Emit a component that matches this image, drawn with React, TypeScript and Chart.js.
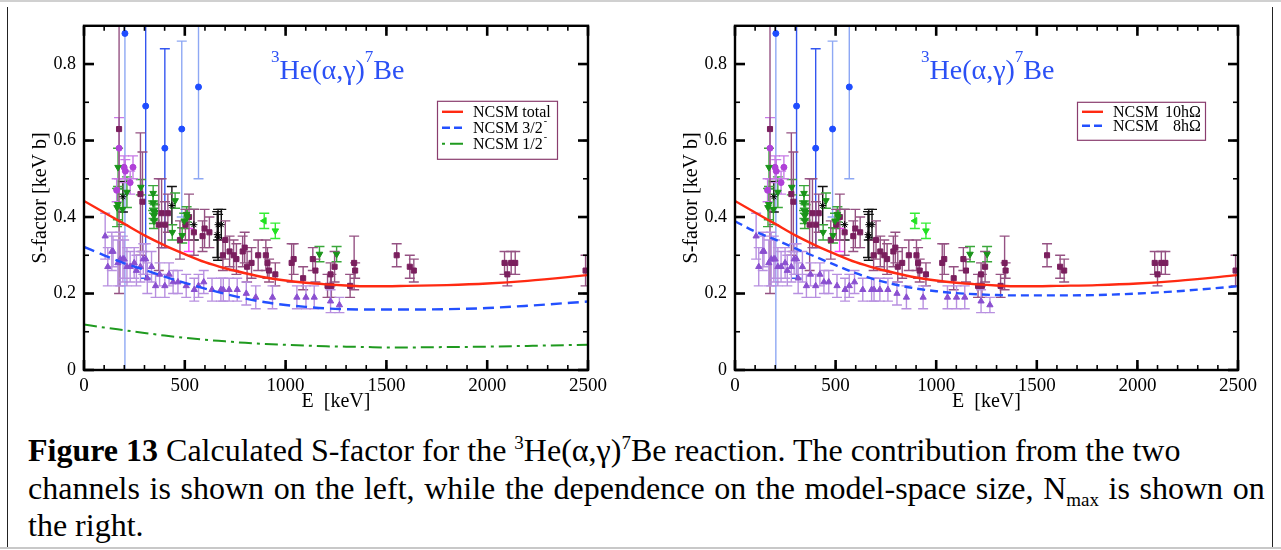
import React, { useEffect, useRef } from "react";
import { Chart, registerables } from "chart.js";

Chart.register(...registerables);

const FONT = '"Liberation Serif", "Times New Roman", Times, serif';

// ---------- axes ----------
const xTickValues = [0, 500, 1000, 1500, 2000, 2500];
const yTickValues = [0, 0.2, 0.4, 0.6, 0.8];
const xMin = 0;
const xMax = 2500;
const yMin = 0;
const yMax = 0.9;
const xMinorStep = 100;
const yMinorStep = 0.1;

// ---------- theory curves ----------
const curveE = [0, 100, 200, 300, 400, 500, 600, 700, 800, 900, 1000, 1100, 1200, 1300, 1400, 1500, 1600, 1800, 2000, 2200, 2500];
const sTotal = [0.442, 0.412, 0.382, 0.352, 0.326, 0.303, 0.282, 0.266, 0.253, 0.242, 0.234, 0.228, 0.224, 0.221, 0.219, 0.219, 0.22, 0.222, 0.226, 0.233, 0.248];
const s32 = [0.322, 0.3, 0.279, 0.262, 0.244, 0.228, 0.213, 0.199, 0.187, 0.177, 0.17, 0.165, 0.161, 0.159, 0.158, 0.158, 0.158, 0.159, 0.162, 0.168, 0.179];
const s12 = [0.119, 0.111, 0.104, 0.097, 0.09, 0.084, 0.079, 0.075, 0.071, 0.068, 0.066, 0.064, 0.062, 0.061, 0.06, 0.059, 0.059, 0.06, 0.061, 0.063, 0.066];
const s8 = [0.389, 0.362, 0.341, 0.318, 0.296, 0.274, 0.253, 0.236, 0.223, 0.213, 0.206, 0.201, 0.198, 0.196, 0.195, 0.195, 0.195, 0.196, 0.2, 0.206, 0.219];

// ---------- experimental data ----------
const maroonE = [174, 280, 290, 371, 385, 402, 416, 476, 503, 521, 545, 588, 598, 622, 689, 701, 722, 742, 756, 787, 797, 809, 831, 864, 902, 910, 918, 949, 1030, 1040, 1087, 1135, 1148, 1208, 1223, 1227, 1243, 1320, 1340, 1345, 1551, 1616, 1636, 2086, 2100, 2119, 2139, 2488];
const maroonS = [0.63, 0.46, 0.44, 0.38, 0.41, 0.38, 0.41, 0.34, 0.38, 0.4, 0.36, 0.35, 0.37, 0.36, 0.3, 0.34, 0.31, 0.3, 0.29, 0.31, 0.32, 0.27, 0.28, 0.3, 0.3, 0.28, 0.26, 0.25, 0.28, 0.29, 0.24, 0.29, 0.26, 0.22, 0.25, 0.22, 0.27, 0.22, 0.28, 0.26, 0.3, 0.27, 0.26, 0.28, 0.25, 0.28, 0.28, 0.26];
const maroonErr = [0.43, 0.16, 0.13, 0.12, 0.09, 0.06, 0.05, 0.05, 0.04, 0.06, 0.06, 0.04, 0.05, 0.04, 0.04, 0.05, 0.04, 0.04, 0.04, 0.04, 0.04, 0.04, 0.04, 0.04, 0.04, 0.04, 0.03, 0.03, 0.05, 0.04, 0.03, 0.03, 0.03, 0.03, 0.03, 0.03, 0.04, 0.03, 0.07, 0.02, 0.03, 0.03, 0.03, 0.03, 0.03, 0.03, 0.03, 0.04];

const purpleE = [105, 118, 138, 144, 168, 180, 193, 199, 213, 229, 249, 260, 280, 294, 306, 314, 335, 355, 375, 401, 422, 442, 466, 507, 547, 568, 594, 635, 679, 691, 720, 760, 805, 852, 935, 1056, 1101, 1142, 1223, 1267];
const purpleS = [0.35, 0.27, 0.31, 0.31, 0.28, 0.29, 0.29, 0.29, 0.27, 0.27, 0.28, 0.26, 0.27, 0.29, 0.29, 0.24, 0.27, 0.22, 0.25, 0.22, 0.25, 0.23, 0.23, 0.22, 0.21, 0.22, 0.23, 0.21, 0.21, 0.21, 0.21, 0.21, 0.2, 0.19, 0.19, 0.19, 0.19, 0.19, 0.18, 0.17];
const purpleErr = [0.06, 0.05, 0.05, 0.04, 0.06, 0.07, 0.06, 0.05, 0.05, 0.04, 0.04, 0.04, 0.04, 0.04, 0.04, 0.04, 0.04, 0.03, 0.03, 0.03, 0.03, 0.03, 0.03, 0.03, 0.03, 0.03, 0.03, 0.03, 0.03, 0.03, 0.03, 0.03, 0.03, 0.03, 0.03, 0.03, 0.03, 0.03, 0.03, 0.02];

const greenE = [164, 168, 169, 191, 213, 282, 343, 343, 345, 347, 347, 351, 438, 452, 487, 497, 509, 513, 1168, 1253];
const greenS = [0.425, 0.433, 0.53, 0.42, 0.465, 0.478, 0.462, 0.437, 0.416, 0.403, 0.39, 0.412, 0.36, 0.443, 0.352, 0.39, 0.407, 0.4, 0.303, 0.303];
const greenErr = [0.05, 0.04, 0.05, 0.04, 0.04, 0.02, 0.02, 0.02, 0.02, 0.02, 0.02, 0.02, 0.02, 0.02, 0.02, 0.02, 0.02, 0.02, 0.02, 0.02];

const limeE = [894, 949];
const limeS = [0.39, 0.364];
const limeErr = [0.02, 0.02];
const limeRot = [-90, 180];

const blackE = [193, 436, 545, 661, 665, 665, 681];
const blackS = [0.453, 0.43, 0.38, 0.354, 0.347, 0.38, 0.38];
const blackErr = [0.04, 0.05, 0.04, 0.06, 0.06, 0.04, 0.04];

const violetE = [162, 174, 199, 205, 229, 243];
const violetS = [0.47, 0.58, 0.53, 0.52, 0.49, 0.53];
const violetErr = [0.03, 0.08, 0.03, 0.03, 0.03, 0.03];

const magentaE = [520];
const magentaS = [0.34];
const magentaErr = [0.03];

const blueDarkE = [306, 401];
const blueDarkS = [0.69, 0.58];
const blueDarkErr = [0.45, 0.26];

const blueLightE = [203, 485, 568];
const blueLightS = [0.88, 0.63, 0.74];
const blueLightErr = [0.88, 0.23, 0.24];

// ---------- helpers ----------
const pts = (E: number[], S: number[]) => E.map((e, i) => ({ x: e, y: S[i] }));

function scatter(E: number[], S: number[], err: number[], color: string, errColor: string, style: string, radius: number, rotation: any = 0) {
  return {
    type: "scatter",
    data: pts(E, S),
    errors: err,
    errColor,
    pointStyle: style,
    pointRadius: radius,
    pointRotation: rotation,
    backgroundColor: color,
    borderColor: color,
    borderWidth: 1,
  };
}

function experimentalDatasets() {
  return [
    scatter(magentaE, magentaS, magentaErr, "#ff30ff", "#ff40ff", "circle", 0),
    scatter(blueDarkE, blueDarkS, blueDarkErr, "#1f4dff", "#3456f0", "circle", 3),
    scatter(blueLightE, blueLightS, blueLightErr, "#1f4dff", "#8ea8f4", "circle", 3),
    scatter(blackE, blackS, blackErr, "#000000", "#111111", "star", 3.5),
    scatter(limeE, limeS, limeErr, "#22e022", "#33ee33", "triangle", 3.8, limeRot),
    scatter(greenE, greenS, greenErr, "#1a941a", "#3aa83a", "triangle", 3.8, 180),
    scatter(violetE, violetS, violetErr, "#b040d8", "#c77ae6", "circle", 3),
    scatter(maroonE, maroonS, maroonErr, "#7a1f5e", "#955283", "rect", 3.6),
    scatter(purpleE, purpleS, purpleErr, "#8a4fd0", "#b890e0", "triangle", 3.6),
  ];
}

function curve(S: number[], color: string, width: number, dash: number[]) {
  return {
    type: "line",
    data: pts(curveE, S),
    borderColor: color,
    borderWidth: width,
    borderDash: dash,
    pointRadius: 0,
    fill: false,
    cubicInterpolationMode: "monotone",
  };
}

// ---------- plugins ----------
const errorBarPlugin = {
  id: "errorBars",
  beforeDatasetsDraw(chart: any) {
    const { ctx, chartArea: a, scales } = chart;
    const x = scales.x;
    const y = scales.y;
    ctx.save();
    ctx.beginPath();
    ctx.rect(a.left, a.top, a.right - a.left, a.bottom - a.top);
    ctx.clip();
    const cap = 5;
    chart.data.datasets.forEach((ds: any) => {
      if (!ds.errors) return;
      ctx.strokeStyle = ds.errColor;
      ctx.lineWidth = 1.4;
      ds.data.forEach((p: any, i: number) => {
        const e = ds.errors[i];
        const px = x.getPixelForValue(p.x);
        const y1 = y.getPixelForValue(p.y - e);
        const y2 = y.getPixelForValue(p.y + e);
        ctx.beginPath();
        ctx.moveTo(px, y1);
        ctx.lineTo(px, y2);
        ctx.moveTo(px - cap, y1);
        ctx.lineTo(px + cap, y1);
        ctx.moveTo(px - cap, y2);
        ctx.lineTo(px + cap, y2);
        ctx.stroke();
      });
    });
    ctx.restore();
  },
};

const framePlugin = {
  id: "frameTicks",
  afterDatasetsDraw(chart: any) {
    const { ctx, chartArea: a, scales } = chart;
    const x = scales.x;
    const y = scales.y;
    ctx.save();
    ctx.strokeStyle = "#000";
    ctx.lineCap = "butt";
    const seg = (x1: number, y1: number, x2: number, y2: number) => {
      ctx.beginPath();
      ctx.moveTo(x1, y1);
      ctx.lineTo(x2, y2);
      ctx.stroke();
    };
    ctx.lineWidth = 1.6;
    for (let v = xMin; v <= xMax + 1e-9; v += xMinorStep) {
      const px = x.getPixelForValue(v);
      seg(px, a.bottom, px, a.bottom - 5);
      seg(px, a.top, px, a.top + 5);
    }
    for (let v = yMin; v <= yMax + 1e-9; v += yMinorStep) {
      const py = y.getPixelForValue(v);
      seg(a.left, py, a.left + 5, py);
      seg(a.right, py, a.right - 5, py);
    }
    ctx.lineWidth = 2.6;
    xTickValues.forEach((v) => {
      const px = x.getPixelForValue(v);
      seg(px, a.bottom, px, a.bottom - 10);
      seg(px, a.top, px, a.top + 10);
    });
    yTickValues.forEach((v) => {
      const py = y.getPixelForValue(v);
      seg(a.left, py, a.left + 10, py);
      seg(a.right, py, a.right - 10, py);
    });
    ctx.lineWidth = 2.4;
    ctx.strokeRect(a.left, a.top, a.right - a.left, a.bottom - a.top);
    ctx.restore();
  },
};

const boxLegendPlugin = {
  id: "boxLegend",
  afterDraw(chart: any, _args: any, opts: any) {
    if (!opts || !opts.entries) return;
    const { ctx, chartArea: a } = chart;
    const bx = a.left + opts.x;
    const by = a.top + opts.y;
    ctx.save();
    ctx.fillStyle = "#ffffff";
    ctx.fillRect(bx, by, opts.w, opts.h);
    ctx.strokeStyle = "#8a3d6e";
    ctx.lineWidth = 1.2;
    ctx.strokeRect(bx + 0.5, by + 0.5, opts.w, opts.h);
    opts.entries.forEach((en: any, i: number) => {
      const yy = by + opts.firstY + i * opts.rowH;
      const ds = chart.data.datasets[en.dataset];
      ctx.strokeStyle = ds.borderColor;
      ctx.lineWidth = ds.borderWidth;
      ctx.setLineDash(en.dash || []);
      ctx.beginPath();
      ctx.moveTo(bx + 5, yy);
      ctx.lineTo(bx + 26, yy);
      ctx.stroke();
      ctx.setLineDash([]);
      ctx.fillStyle = "#000";
      ctx.font = `16px ${FONT}`;
      ctx.textBaseline = "middle";
      ctx.textAlign = "left";
      ctx.fillText(en.text, bx + 36, yy + 1);
      if (en.sup) {
        const w = ctx.measureText(en.text).width;
        ctx.font = `10px ${FONT}`;
        ctx.fillText(en.sup, bx + 37 + w, yy - 6);
      }
      if (en.right) {
        ctx.font = `16px ${FONT}`;
        ctx.textAlign = "right";
        ctx.fillText(en.right, bx + opts.rightX, yy + 1);
      }
    });
    ctx.restore();
  },
};

// ---------- panel ----------
const CANVAS_TOP = 7;
const CANVAS_H = 413;
const Y_AXIS_W = 64;
const X_AXIS_H = 50;
const PAD_RIGHT = 32;

function Panel(props: { chartLeft: number; plotWidth: number; curves: any[]; legend: any }) {
  const ref = useRef<HTMLCanvasElement | null>(null);
  const width = Y_AXIS_W + props.plotWidth + PAD_RIGHT;
  useEffect(() => {
    const chart = new Chart(ref.current as HTMLCanvasElement, {
      type: "scatter",
      data: { datasets: [...props.curves, ...experimentalDatasets()] as any },
      options: {
        animation: false,
        responsive: false,
        maintainAspectRatio: false,
        events: [],
        layout: { padding: { top: 12, right: PAD_RIGHT, left: 0, bottom: 0 } },
        plugins: {
          legend: { display: false },
          tooltip: { enabled: false },
          boxLegend: props.legend,
        } as any,
        scales: {
          x: {
            type: "linear",
            min: xMin,
            max: xMax,
            grid: { display: false, drawTicks: false },
            border: { display: false },
            afterBuildTicks: (s: any) => {
              s.ticks = xTickValues.map((v) => ({ value: v }));
            },
            afterFit: (s: any) => {
              s.height = X_AXIS_H;
            },
            ticks: {
              color: "#000",
              font: { family: FONT, size: 19 },
              padding: 5,
              maxRotation: 0,
              autoSkip: false,
              callback: (v: any) => String(v),
            },
            title: {
              display: true,
              text: "E  [keV]",
              color: "#000",
              font: { family: FONT, size: 20 },
              padding: { top: 0, bottom: 6 },
            },
          },
          y: {
            type: "linear",
            min: yMin,
            max: yMax,
            grid: { display: false, drawTicks: false },
            border: { display: false },
            afterBuildTicks: (s: any) => {
              s.ticks = yTickValues.map((v) => ({ value: v }));
            },
            afterFit: (s: any) => {
              s.width = Y_AXIS_W;
            },
            ticks: {
              color: "#000",
              font: { family: FONT, size: 18 },
              padding: 8,
              autoSkip: false,
              callback: (v: any) => (v === 0 ? "0" : Number(v).toFixed(1)),
            },
            title: {
              display: true,
              text: "S-factor [keV b]",
              color: "#000",
              font: { family: FONT, size: 20 },
              padding: { top: 9, bottom: 0 },
            },
          },
        },
      } as any,
      plugins: [errorBarPlugin, framePlugin, boxLegendPlugin],
    });
    return () => chart.destroy();
  }, []);
  return (
    <canvas
      ref={ref}
      width={width}
      height={CANVAS_H}
      style={{ position: "absolute", left: props.chartLeft - Y_AXIS_W, top: CANVAS_TOP, width, height: CANVAS_H }}
    />
  );
}

const Sup = (p: { children: any; size: number; top: number }) => (
  <span style={{ fontSize: p.size, position: "relative", top: p.top, lineHeight: 0 }}>{p.children}</span>
);

function Reaction(props: { left: number }) {
  return (
    <div
      style={{
        position: "absolute",
        left: props.left,
        top: 56,
        fontFamily: FONT,
        fontSize: 28,
        lineHeight: "28px",
        color: "#2b50f5",
        whiteSpace: "nowrap",
      }}
    >
      <Sup size={17} top={-17}>3</Sup>He(α,γ)<Sup size={17} top={-17}>7</Sup>Be
    </div>
  );
}

export default function App() {
  const leftCurves = [curve(sTotal, "#ff2a12", 2.4, []), curve(s32, "#2350ff", 2.4, [11, 6]), curve(s12, "#1f9a1f", 2, [13, 5, 3, 5])];
  const rightCurves = [curve(sTotal, "#ff2a12", 2.4, []), curve(s8, "#2350ff", 2.4, [8, 5])];
  const leftLegend = {
    x: 353,
    y: 75,
    w: 120,
    h: 58,
    firstY: 11,
    rowH: 16,
    entries: [
      { dataset: 0, text: "NCSM total" },
      { dataset: 1, text: "NCSM 3/2", sup: "-", dash: [8, 4] },
      { dataset: 2, text: "NCSM 1/2", sup: "-", dash: [3, 5, 13, 5] },
    ],
  };
  const rightLegend = {
    x: 342,
    y: 76,
    w: 128,
    h: 38,
    firstY: 10,
    rowH: 14,
    rightX: 124,
    entries: [
      { dataset: 0, text: "NCSM", right: "10hΩ" },
      { dataset: 1, text: "NCSM", right: "8hΩ", dash: [8, 4] },
    ],
  };
  return (
    <div style={{ position: "fixed", left: 0, top: 0, width: 1281, height: 550, background: "#fff", overflow: "hidden" }}>
      <div style={{ position: "absolute", left: 0, top: 0, width: 1281, height: 2, background: "#d0d0d0" }} />
      <div style={{ position: "absolute", left: 7, top: 7, width: 1, height: 541, background: "#222" }} />
      <div style={{ position: "absolute", left: 1272, top: 7, width: 1, height: 541, background: "#222" }} />
      <div style={{ position: "absolute", left: 0, top: 547, width: 1281, height: 2, background: "#c8c8c8" }} />
      <Panel chartLeft={84} plotWidth={504} curves={leftCurves} legend={leftLegend} />
      <Panel chartLeft={735} plotWidth={503} curves={rightCurves} legend={rightLegend} />
      <Reaction left={271} />
      <Reaction left={921} />
      <div
        style={{
          position: "absolute",
          left: 28,
          top: 432,
          fontFamily: FONT,
          fontSize: 32,
          lineHeight: "37.5px",
          whiteSpace: "nowrap",
          color: "#000",
        }}
      >
        <b>Figure 13</b> Calculated S-factor for the <Sup size={19} top={-12}>3</Sup>He(α,γ)<Sup size={19} top={-12}>7</Sup>Be reaction. The contribution from the two
        <br />
        <span style={{ wordSpacing: "1.6px" }}>
          channels is shown on the left, while the dependence on the model-space size, N<Sup size={19} top={7}>max</Sup> is shown on
        </span>
        <br />
        the right.
      </div>
    </div>
  );
}
